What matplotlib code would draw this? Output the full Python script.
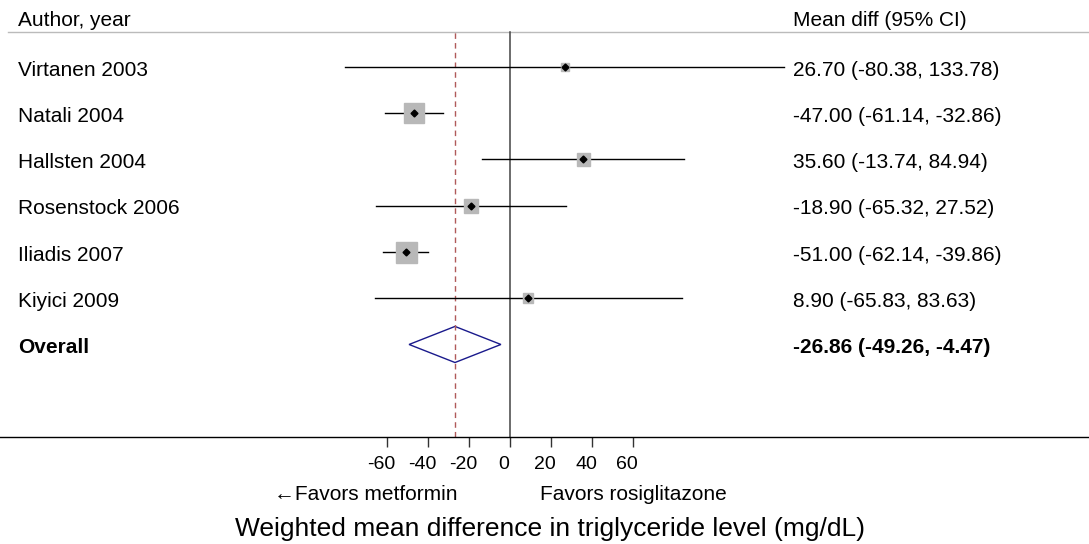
import numpy as np
import matplotlib
matplotlib.use("Agg")
from matplotlib import pyplot as plt
from matplotlib.patches import Polygon
from matplotlib.transforms import ScaledTranslation

plt.rcParams['font.family'] = ['Liberation Sans', 'DejaVu Sans']

studies = ['Virtanen 2003', 'Natali 2004', 'Hallsten 2004', 'Rosenstock 2006',
           'Iliadis 2007', 'Kiyici 2009']
mean_diff = [26.70, -47.00, 35.60, -18.90, -51.00, 8.90]
ci_low = [-80.38, -61.14, -13.74, -65.32, -62.14, -65.83]
ci_high = [133.78, -32.86, 84.94, 27.52, -39.86, 83.63]
box_px = [8, 20, 13, 14, 21, 10]   # square side in pixels (study weight)

overall = -26.86
overall_low = -49.26
overall_high = -4.47

ticks = [-60, -40, -20, 0, 20, 40, 60]

fs = 15
base = 0.19   # baseline offset (rows) so caps are centred on the row

fig = plt.figure(figsize=(10.89, 5.44), dpi=100)
# axes: full width, bottom spine sits at the x axis line
ax = fig.add_axes([0, 107 / 544, 1, 437 / 544])
ax.set_xlim(-248.8, 282.4)
ax.set_ylim(8, -1.446)
for s in ['top', 'right', 'left']:
    ax.spines[s].set_visible(False)
ax.spines['bottom'].set_linewidth(1.0)
ax.set_yticks([])
ax.set_xticks(ticks)
ax.set_xticklabels([str(t) for t in ticks], fontsize=14)
ax.tick_params(axis='x', length=7, width=1, color='#333333', pad=7)
shift = ScaledTranslation(-6 / 100, 0, fig.dpi_scale_trans)
for lab in ax.get_xticklabels():
    lab.set_transform(lab.get_transform() + shift)

# header
ax.text(-240, -0.874, 'Author, year', fontsize=fs, va='baseline', ha='left')
ax.text(138, -0.874, 'Mean diff (95% CI)', fontsize=fs, va='baseline', ha='left')
ax.plot([-245, 282.4], [-0.755, -0.755], color='#bbbbbb', lw=1)

# reference lines
top = (8 + 0.755) / 9.446
ax.axvline(0, ymin=0, ymax=top, color='#444444', lw=1.1)
ax.axvline(overall, ymin=0, ymax=top, color='#b05a5a', lw=1, ls=(0, (4, 3)))

rows = np.arange(len(studies))
for i in rows:
    ax.plot([ci_low[i], ci_high[i]], [i, i], color='black', lw=1, zorder=2)
    ax.plot(mean_diff[i], i, marker='s', ms=box_px[i] * 0.72, color='#b8b8b8',
            mec='#b8b8b8', zorder=3)
    ax.plot(mean_diff[i], i, marker='D', ms=3.5, color='black', zorder=4)
    ax.text(-240, i + base, studies[i], fontsize=fs, va='baseline', ha='left')
    ax.text(138, i + base, '%.2f (%.2f, %.2f)' % (mean_diff[i], ci_low[i], ci_high[i]),
            fontsize=fs, va='baseline', ha='left')

yo = len(studies)
diamond = Polygon([[overall_low, yo], [overall, yo - 0.39], [overall_high, yo],
                   [overall, yo + 0.39]], closed=True, fill=False,
                  edgecolor='#1a1a8c', lw=1)
ax.add_patch(diamond)
ax.text(-240, yo + base, 'Overall', fontsize=fs, va='baseline', ha='left',
        fontweight='bold')
ax.text(138, yo + base, '%.2f (%.2f, %.2f)' % (overall, overall_low, overall_high),
        fontsize=fs, va='baseline', ha='left', fontweight='bold')

fig.text(366 / 1089, 1 - 500 / 544, '\u2190Favors metformin', fontsize=fs,
         ha='center', va='baseline')
fig.text(633 / 1089, 1 - 500 / 544, 'Favors rosiglitazone', fontsize=fs,
         ha='center', va='baseline')
fig.text(550 / 1089, 1 - 536 / 544,
         'Weighted mean difference in triglyceride level (mg/dL)',
         fontsize=19, ha='center', va='baseline')

fig.savefig('out.png', dpi=100)
